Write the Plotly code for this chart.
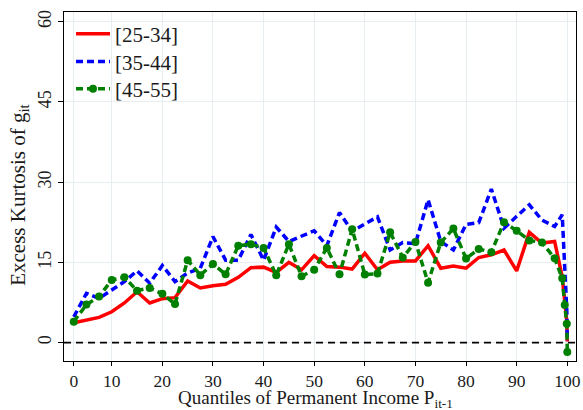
import plotly.graph_objects as go

# Quantile positions (first group plotted at 2.5, labelled "0")
quantiles = [2.5, 5, 7.5, 10, 12.5, 15, 17.5, 20, 22.5, 25, 27.5, 30, 32.5, 35, 37.5, 40,
             42.5, 45, 47.5, 50, 52.5, 55, 57.5, 60, 62.5, 65, 67.5, 70, 72.5, 75, 77.5,
             80, 82.5, 85, 87.5, 90, 92.5, 95, 97.5, 99, 99.5, 99.9, 100]

age_25_34 = [3.7, 4.2, 4.7, 5.75, 7.4, 9.5, 7.4, 8.2, 8.4, 11.5, 10.2, 10.6, 10.9, 12.2,
             14.0, 14.1, 13.1, 15.0, 13.6, 16.25, 14.2, 14.1, 13.75, 16.7, 13.6, 15.0,
             15.25, 15.25, 18.1, 13.9, 14.3, 13.9, 15.9, 16.4, 17.3, 13.4, 20.6, 18.6,
             18.9, 12.3, 8.0, 4.0, 0.2]

age_35_44 = [4.8, 9.2, 8.25, 9.9, 11.4, 13.4, 11.1, 14.4, 11.4, 13.0, 13.9, 19.8, 15.4,
             15.4, 20.2, 15.4, 21.6, 18.9, 19.9, 20.9, 18.1, 24.3, 20.8, 22.2, 23.5, 17.3,
             18.7, 18.5, 26.7, 18.9, 17.3, 22.1, 22.4, 28.7, 21.4, 23.6, 25.75, 22.9, 21.7,
             23.9, 14.0, 6.0, 0.3]

age_45_55 = [3.9, 7.1, 8.6, 11.7, 12.2, 9.7, 10.2, 9.1, 7.2, 15.4, 12.6, 14.7, 12.75, 18.1,
             18.4, 17.7, 12.6, 18.4, 12.4, 13.6, 17.7, 12.75, 21.2, 12.7, 12.9, 20.6, 15.9,
             18.8, 11.2, 18.7, 21.3, 15.7, 17.5, 16.9, 22.5, 20.9, 19.1, 18.7, 15.75, 12.0,
             7.0, 3.5, -1.75]

x_tickvals = [2.5, 10, 20, 30, 40, 50, 60, 70, 80, 90, 100]
x_ticktext = ["0", "10", "20", "30", "40", "50", "60", "70", "80", "90", "100"]
y_tickvals = [0, 15, 30, 45, 60]

FONT = "Liberation Serif, Times New Roman, serif"
TXT = "#1a1a1a"

fig = go.Figure()
fig.add_trace(go.Scatter(x=quantiles, y=age_25_34, mode="lines", name="[25-34]",
                         legend="legend",
                         line=dict(color="#ff0000", width=3.5)))
fig.add_trace(go.Scatter(x=quantiles, y=age_35_44, mode="lines", name="[35-44]",
                         legend="legend2",
                         line=dict(color="#0000ff", width=3.5, dash="7px,4px")))
fig.add_trace(go.Scatter(x=quantiles, y=age_45_55, mode="lines+markers", name="[45-55]",
                         legend="legend3",
                         line=dict(color="#008000", width=3.5, dash="7px,4px"),
                         marker=dict(color="#008000", size=8)))

fig.add_shape(type="line", xref="paper", x0=0, x1=1, yref="y", y0=0, y1=0,
              line=dict(color="#000000", width=1.8, dash="7px,5px"), layer="above")

fig.add_annotation(text="Quantiles of Permanent Income P<sub>it-1</sub>",
                   xref="paper", yref="paper", x=0.492, y=-0.108,
                   xanchor="center", yanchor="middle", showarrow=False,
                   font=dict(family=FONT, size=19, color=TXT))
fig.add_annotation(text="Excess Kurtosis of g<sub>it</sub>",
                   xref="paper", yref="paper", x=-0.088, y=0.476,
                   xanchor="center", yanchor="middle", showarrow=False, textangle=-90,
                   font=dict(family=FONT, size=21, color=TXT))

leg_common = dict(x=0.0137, xanchor="left", yanchor="middle",
                  bgcolor="rgba(0,0,0,0)", borderwidth=0,
                  font=dict(family=FONT, size=21, color=TXT), itemwidth=34)

fig.update_layout(
    width=583, height=410,
    margin=dict(l=64, r=7, t=12, b=49),
    paper_bgcolor="white", plot_bgcolor="white",
    font=dict(family=FONT, size=18, color=TXT),
    showlegend=True,
    legend=dict(y=0.937, **leg_common),
    legend2=dict(y=0.857, **leg_common),
    legend3=dict(y=0.779, **leg_common),
    xaxis=dict(range=[0.57, 101.72], tickvals=x_tickvals, ticktext=x_ticktext,
               automargin=False,
               showgrid=True, gridcolor="#e6eef1", gridwidth=1,
               showline=True, linecolor="black", linewidth=1.3, mirror=True,
               ticks="outside", ticklen=4, tickcolor="black", zeroline=False,
               tickfont=dict(family=FONT, size=17.5, color=TXT)),
    yaxis=dict(range=[-3.45, 61.8], tickvals=y_tickvals,
               automargin=False,
               showgrid=True, gridcolor="#e6eef1", gridwidth=1,
               showline=True, linecolor="black", linewidth=1.3, mirror=True,
               ticks="outside", ticklen=5, tickcolor="black", zeroline=False,
               tickangle=-90,
               tickfont=dict(family=FONT, size=18, color=TXT)),
)

fig.write_html("out.html", config={"displayModeBar": False},
               post_script="document.body.style.margin='0px';")
